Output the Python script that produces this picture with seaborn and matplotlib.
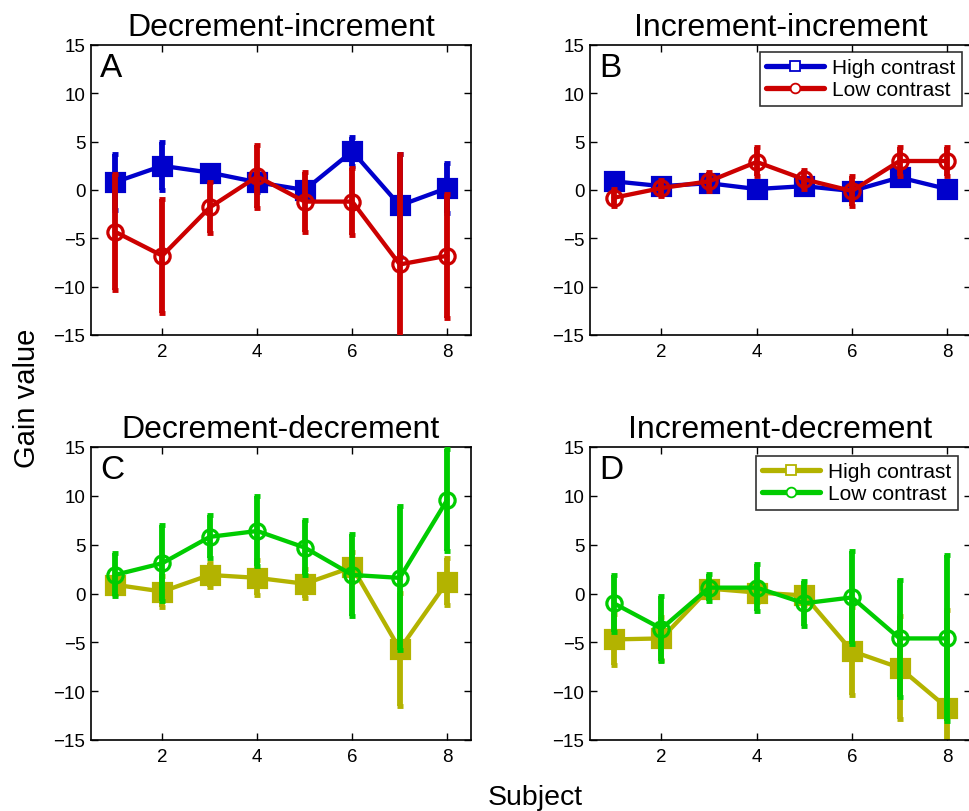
import numpy as np
import pandas as pd
import matplotlib
matplotlib.use("Agg")
import matplotlib.pyplot as plt
import seaborn as sns
from matplotlib.lines import Line2D

sns.set_theme(style="white")
plt.rcParams['font.family'] = ['Liberation Sans', 'DejaVu Sans']
plt.rcParams['text.color'] = 'black'
plt.rcParams['xtick.color'] = 'black'
plt.rcParams['ytick.color'] = 'black'

subjects = [1, 2, 3, 4, 5, 6, 7, 8]

titles = ["Decrement-increment", "Increment-increment",
          "Decrement-decrement", "Increment-decrement"]
letters = ["A", "B", "C", "D"]

# panel A
a_high = [0.8, 2.5, 1.8, 0.8, 0.0, 4.0, -1.6, 0.2]
a_high_err = [2.9, 2.5, 0.8, 1.0, 0.8, 1.5, 5.3, 2.6]
a_low = [-4.3, -6.8, -1.8, 1.4, -1.2, -1.2, -7.7, -6.8]
a_low_err = [6.0, 5.9, 2.6, 3.3, 3.1, 3.5, 11.4, 6.4]
# panel B
b_high = [0.9, 0.4, 0.7, 0.1, 0.4, -0.1, 1.3, 0.1]
b_high_err = [0.3, 0.3, 0.3, 0.3, 0.3, 0.3, 0.4, 0.3]
b_low = [-0.8, 0.2, 0.9, 2.9, 1.1, -0.1, 3.0, 3.0]
b_low_err = [0.9, 0.8, 1.0, 1.5, 1.0, 1.6, 1.5, 1.5]
# panel C
c_high = [0.9, 0.2, 1.9, 1.6, 1.0, 2.7, -5.7, 1.2]
c_high_err = [0.9, 1.6, 1.2, 1.8, 1.5, 1.5, 5.8, 2.4]
c_low = [1.9, 3.1, 5.8, 6.4, 4.7, 1.9, 1.6, 9.6]
c_low_err = [2.2, 3.9, 2.2, 3.6, 2.8, 4.2, 7.4, 5.2]
# panel D
d_high = [-4.7, -4.6, 0.5, 0.1, -0.2, -5.9, -7.6, -11.7]
d_high_err = [2.6, 2.2, 0.8, 1.0, 1.0, 4.5, 5.3, 10.0]
d_low = [-1.0, -3.6, 0.6, 0.6, -1.0, -0.4, -4.6, -4.6]
d_low_err = [2.9, 3.3, 1.35, 2.4, 2.3, 4.8, 6.0, 8.5]

blue = "#0000cc"
red = "#cc0000"
olive = "#b3b300"
green = "#00cc00"

panels = [
    (a_high, a_high_err, a_low, a_low_err, blue, red),
    (b_high, b_high_err, b_low, b_low_err, blue, red),
    (c_high, c_high_err, c_low, c_low_err, olive, green),
    (d_high, d_high_err, d_low, d_low_err, olive, green),
]

W, H = 969, 812
fig = plt.figure(figsize=(W / 100, H / 100), dpi=100)
boxes = [(91, 46, 471, 336), (590, 46, 971, 336),
         (91, 448, 471, 741), (590, 448, 971, 741)]
legend_anchor = {1: (962, 53), 3: (958, 457)}

for i, (hi, hi_e, lo, lo_e, c_hi, c_lo) in enumerate(panels):
    x0, y0, x1, y1 = boxes[i]
    ax = fig.add_axes([x0 / W, 1 - y1 / H, (x1 - x0) / W, (y1 - y0) / H])
    df = pd.DataFrame({"subject": subjects * 2,
                       "gain": hi + lo,
                       "err": hi_e + lo_e,
                       "cond": ["High contrast"] * 8 + ["Low contrast"] * 8})
    # high contrast first, low contrast drawn on top (bars and line)
    for k, (cond, col, mk, mfc) in enumerate([("High contrast", c_hi, "s", c_hi),
                                              ("Low contrast", c_lo, "o", "none")]):
        sub = df[df["cond"] == cond]
        ax.errorbar(sub["subject"], sub["gain"], yerr=sub["err"], fmt="none",
                    ecolor=col, elinewidth=4.2, capsize=2.5, capthick=3.5,
                    zorder=2 + 2 * k)
        sns.lineplot(data=sub, x="subject", y="gain", ax=ax, color=col,
                     linewidth=3.1, marker=mk,
                     markersize=13 if mk == "s" else 11,
                     markerfacecolor=mfc, markeredgecolor=col,
                     markeredgewidth=2.3, legend=False, zorder=3 + 2 * k)
    ax.set_xlim(0.5, 8.5)
    ax.set_ylim(-15, 15)
    ax.set_xticks([2, 4, 6, 8])
    ax.set_yticks([-15, -10, -5, 0, 5, 10, 15])
    ax.set_xlabel("")
    ax.set_ylabel("")
    ax.tick_params(direction="in", length=5, width=1, labelsize=13.5,
                   top=True, right=True, bottom=True, left=True,
                   colors="black")
    ax.tick_params(axis="y", pad=4)
    ax.tick_params(axis="x", pad=6)
    for s in ax.spines.values():
        s.set_color("black")
        s.set_linewidth(1.2)
    ax.set_title(titles[i], fontsize=23, pad=7)
    ax.text(0.024, 0.975, letters[i], transform=ax.transAxes, fontsize=24,
            va="top", ha="left")
    if i in legend_anchor:
        handles = [Line2D([], [], color=c_hi, lw=3.8, marker="s", markersize=7,
                          markerfacecolor="white", markeredgecolor=c_hi,
                          markeredgewidth=1.3),
                   Line2D([], [], color=c_lo, lw=3.8, marker="o", markersize=7,
                          markerfacecolor="white", markeredgecolor=c_lo,
                          markeredgewidth=1.3)]
        lx, ly = legend_anchor[i]
        leg = ax.legend(handles, ["High contrast", "Low contrast"],
                        loc="upper right", bbox_to_anchor=(lx / W, 1 - ly / H),
                        bbox_transform=fig.transFigure, fontsize=15,
                        frameon=True, fancybox=False, borderaxespad=0,
                        handlelength=2.8, labelspacing=0.15, borderpad=0.3,
                        handletextpad=0.4)
        leg.set_zorder(10)
        leg.get_frame().set_edgecolor("black")
        leg.get_frame().set_linewidth(1.2)

fig.text(27 / W, 1 - 398 / H, "Gain value", rotation=90, fontsize=21,
         ha="center", va="center")
fig.text(535 / W, 1 - 805 / H, "Subject", fontsize=20.5,
         ha="center", va="baseline")

fig.savefig("out.png", dpi=100, facecolor="white")
